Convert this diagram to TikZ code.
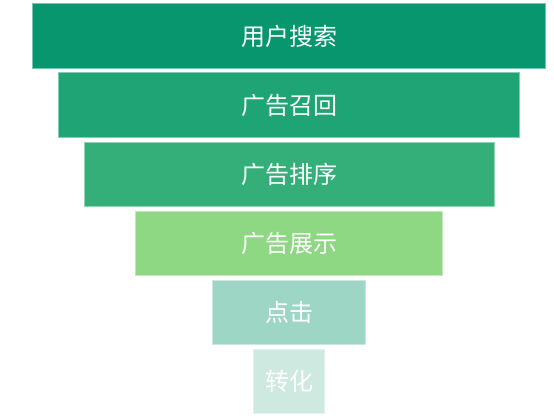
\documentclass[tikz,border=0pt]{standalone}
\usepackage{fontspec}
\setmainfont{Noto Sans CJK SC}

\definecolor{searchgreen}{HTML}{07966E}
\definecolor{recallgreen}{HTML}{1FA575}
\definecolor{rankgreen}{HTML}{35AF79}
\definecolor{showgreen}{HTML}{8ED783}
\definecolor{clickgreen}{HTML}{9DD6C5}
\definecolor{convgreen}{HTML}{CDE9E0}

\tikzset{
    funnelbar/.style={rectangle, inner sep=0pt, minimum height=48.4pt,
        text=white, font=\fontsize{18pt}{20pt}\selectfont}
}

\begin{document}
\begin{tikzpicture}[x=0.75pt, y=-0.75pt]
    \useasboundingbox (0,0) rectangle (554,418);   % page size of the reference

\foreach \w/\c/\t/\n [count=\i from 0] in
    {513.4/searchgreen/用户搜索/search,
     461.4/recallgreen/广告召回/recall,
     410/rankgreen/广告排序/rank,
     307.4/showgreen/广告展示/show,
     153.4/clickgreen/点击/click,
     71/convgreen/转化/conv}
    \node [funnelbar, fill=\c, draw=\c!55!white, line width=0.6pt,
        minimum width=\w*0.75pt] (\n) at (289, 36+69.1*\i) {\t};  % one step of the funnel

\end{tikzpicture}
\end{document}
